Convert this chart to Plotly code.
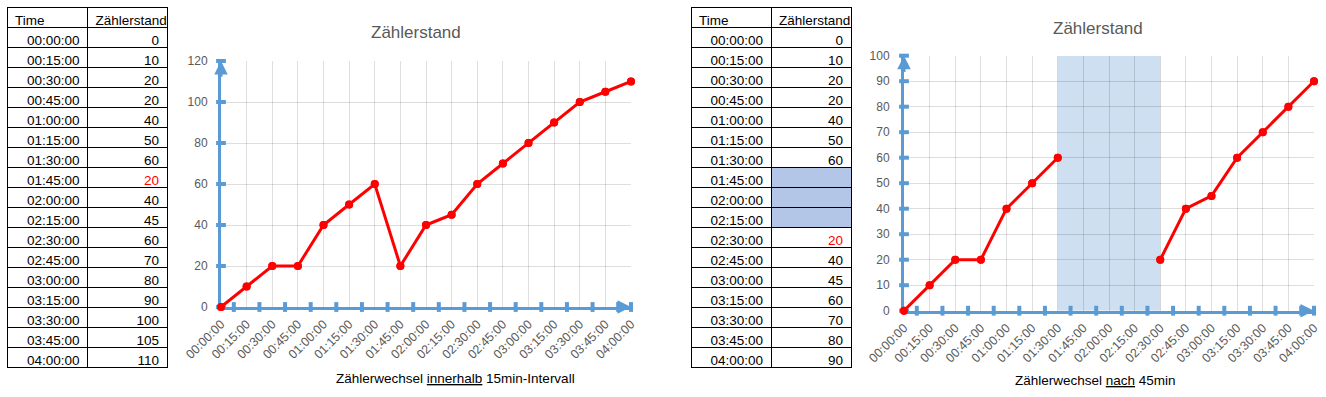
import plotly.graph_objects as go

# ---------------- data ----------------
times = ["00:00:00", "00:15:00", "00:30:00", "00:45:00", "01:00:00", "01:15:00",
         "01:30:00", "01:45:00", "02:00:00", "02:15:00", "02:30:00", "02:45:00",
         "03:00:00", "03:15:00", "03:30:00", "03:45:00", "04:00:00"]
values_1 = [0, 10, 20, 20, 40, 50, 60, 20, 40, 45, 60, 70, 80, 90, 100, 105, 110]
values_2 = [0, 10, 20, 20, 40, 50, 60, None, None, None, 20, 40, 45, 60, 70, 80, 90]
header = ["Time", "Zählerstand"]
title_text = "Zählerstand"
caption_1 = "Zählerwechsel <u>innerhalb</u> 15min-Intervall"
caption_2 = "Zählerwechsel <u>nach</u> 45min"

# ---------------- styling ----------------
W, H = 1326, 397
BLUE = "#5b9bd5"
RED = "#ff0000"
GRID = "rgba(0,0,0,0.13)"
GRAY = "#595959"
FONT = "Liberation Sans"


def fx(p):
    return p / W


def fy(p):
    return 1 - p / H


def drop_index(vals):
    last = None
    for i, v in enumerate(vals):
        if v is None:
            continue
        if last is not None and v < last:
            return i
        last = v
    return -1


fig = go.Figure()


def add_table(vals, x0, x1, y0, y1, col_w):
    idx = drop_index(vals)
    txt = []
    colors = []
    fills = []
    for i, v in enumerate(vals):
        if v is None:
            txt.append("")
            fills.append("#b4c6e7")
        else:
            txt.append(str(v))
            fills.append("white")
        colors.append(RED if i == idx else "black")
    fig.add_trace(go.Table(
        domain=dict(x=[fx(x0), fx(x1)], y=[fy(y1), fy(y0)]),
        columnwidth=col_w,
        header=dict(values=header, align="left", height=20,
                    fill_color="white", line=dict(color="black", width=1),
                    font=dict(family=FONT, size=13.5, color="black")),
        cells=dict(values=[times, txt], align="right", height=20,
                   fill_color=[["white"] * len(times), fills],
                   line=dict(color="black", width=1),
                   font=dict(family=FONT, size=13.5,
                             color=[["black"] * len(times), colors])),
    ))


add_table(values_1, 7, 167, 7, 368, [80, 79])
add_table(values_2, 691, 851, 7, 368, [80, 80])


def add_chart(vals, xa, ya, ymax, dtick):
    n = len(times)
    xs = list(range(n))
    fig.add_trace(go.Scatter(
        x=xs, y=vals, mode="lines+markers", xaxis=xa, yaxis=ya,
        line=dict(color=RED, width=3), marker=dict(color=RED, size=8),
        connectgaps=False, cliponaxis=False, hoverinfo="skip", showlegend=False))
    # axis tick marks crossing the axis lines
    fig.add_trace(go.Scatter(
        x=[i + 0.5 for i in range(n - 1)] + [n - 1], y=[0] * n,
        mode="markers", xaxis=xa, yaxis=ya, cliponaxis=False,
        marker=dict(symbol="line-ns", size=7, line=dict(color=BLUE, width=4)),
        hoverinfo="skip", showlegend=False))
    yt = list(range(0, ymax + 1, dtick))
    fig.add_trace(go.Scatter(
        x=[0] * len(yt), y=yt, mode="markers", xaxis=xa, yaxis=ya, cliponaxis=False,
        marker=dict(symbol="line-ew", size=7, line=dict(color=BLUE, width=4)),
        hoverinfo="skip", showlegend=False))
    # re-draw data markers on top of tick marks
    fig.add_trace(go.Scatter(
        x=xs, y=vals, mode="markers", xaxis=xa, yaxis=ya,
        marker=dict(color=RED, size=8), cliponaxis=False,
        hoverinfo="skip", showlegend=False))
    # arrowheads
    fig.add_annotation(x=n - 1, y=0, ax=n - 1.6, ay=0, xref=xa, yref=ya,
                       axref=xa, ayref=ya, text="", showarrow=True, arrowhead=2,
                       arrowsize=0.9, arrowwidth=3, arrowcolor=BLUE)
    fig.add_annotation(x=0, y=ymax, ax=0, ay=ymax * 0.93, xref=xa, yref=ya,
                       axref=xa, ayref=ya, text="", showarrow=True, arrowhead=2,
                       arrowsize=0.9, arrowwidth=3, arrowcolor=BLUE)


add_chart(values_1, "x", "y", 120, 20)
add_chart(values_2, "x2", "y2", 100, 10)

# shaded gap region in chart 2
gap = [i for i, v in enumerate(values_2) if v is None]
fig.add_shape(type="rect", xref="x2", yref="y2", x0=gap[0] - 1, x1=gap[-1] + 1,
              y0=0, y1=100, fillcolor="#cddff1", line=dict(width=0), layer="below")

axis_common = dict(showgrid=True, gridcolor=GRID, gridwidth=1, zeroline=False,
                   showline=True, linecolor=BLUE, linewidth=3, layer="below traces",
                   ticks="", fixedrange=True, automargin=False)

xcommon = dict(axis_common, tickvals=list(range(len(times))), ticktext=times,
               tickangle=-45, range=[0, len(times) - 1], ticklabelstandoff=2,
               tickfont=dict(family=FONT, size=12.5, color=GRAY))

fig.update_layout(
    width=W, height=H, margin=dict(l=0, r=0, t=0, b=0, autoexpand=False),
    paper_bgcolor="white", plot_bgcolor="white", showlegend=False,
    xaxis=dict(xcommon, domain=[fx(221), fx(631)], anchor="y"),
    yaxis=dict(axis_common, domain=[fy(307), fy(61)], range=[0, 120], dtick=20,
               anchor="x", ticklabelstandoff=8,
               tickfont=dict(family=FONT, size=12, color=GRAY)),
    xaxis2=dict(xcommon, domain=[fx(904), fx(1314)], anchor="y2"),
    yaxis2=dict(axis_common, domain=[fy(310.7), fy(55.7)], range=[0, 100], dtick=10,
                anchor="x2", ticklabelstandoff=9,
                tickfont=dict(family=FONT, size=12, color=GRAY)),
)

for cx, cy, t in [(415.5, 33, title_text), (1098, 29, title_text)]:
    fig.add_annotation(x=fx(cx), y=fy(cy), xref="paper", yref="paper", text=t,
                       xanchor="center", yanchor="middle", showarrow=False,
                       font=dict(family=FONT, size=17, color=GRAY))
for cx, cy, t in [(455, 378, caption_1), (1095, 380, caption_2)]:
    fig.add_annotation(x=fx(cx), y=fy(cy), xref="paper", yref="paper", text=t,
                       xanchor="center", yanchor="middle", showarrow=False,
                       font=dict(family=FONT, size=13.5, color="black"))

fig.write_html("out.html", config={"displayModeBar": False},
               post_script="document.body.style.margin='0';"
                           "document.body.style.overflow='hidden';")
